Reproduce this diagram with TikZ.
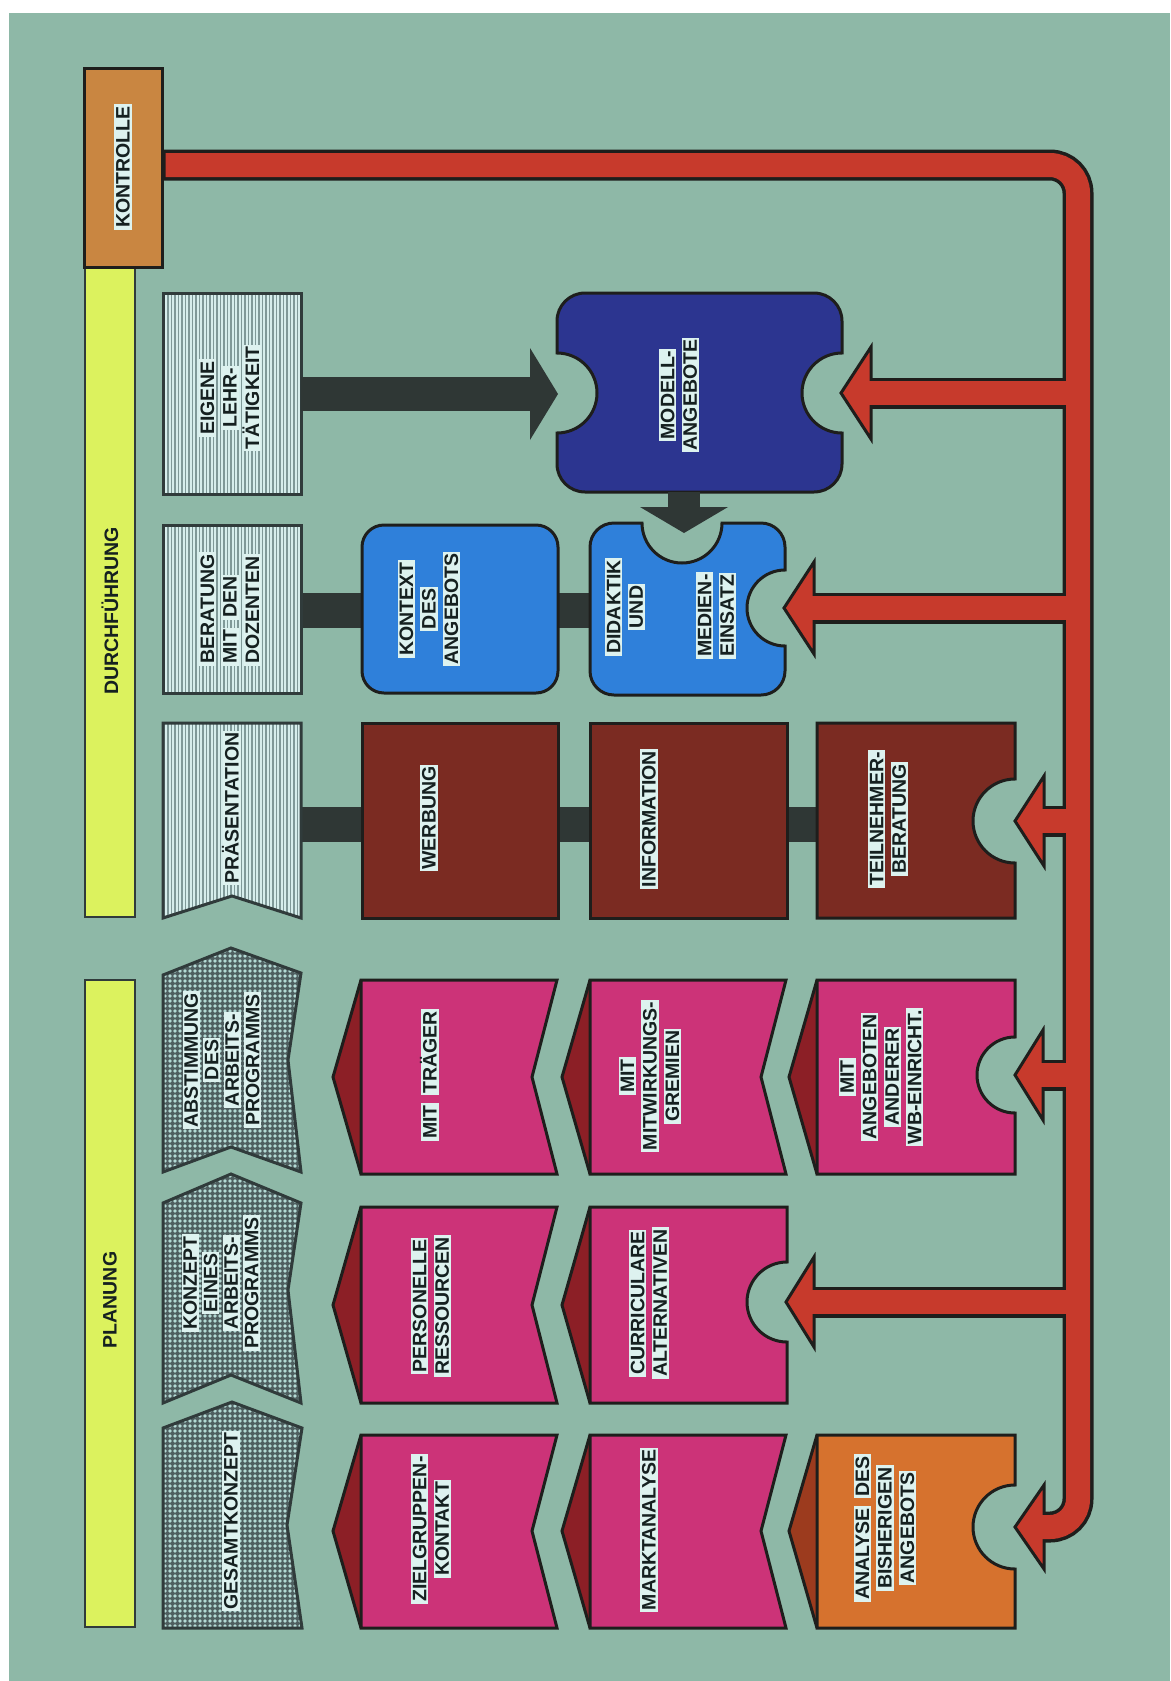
\documentclass[tikz,border=0pt]{standalone}
\usepackage{fontspec}
\setmainfont{Liberation Sans}
\usetikzlibrary{calc,patterns.meta}
\definecolor{bgc}{HTML}{8EB8A7}
\definecolor{redc}{HTML}{C73A2C}
\definecolor{outc}{HTML}{1E1E1C}
\definecolor{darkc}{HTML}{2F3735}
\definecolor{magc}{HTML}{CC3378}
\definecolor{magside}{HTML}{8C1F26}
\definecolor{orac}{HTML}{D6722E}
\definecolor{oraside}{HTML}{9C3B1E}
\definecolor{brownc}{HTML}{7B2B22}
\definecolor{navyc}{HTML}{2C3590}
\definecolor{bluec}{HTML}{2F80DA}
\definecolor{yelc}{HTML}{DCF25E}
\definecolor{konc}{HTML}{C98641}
\definecolor{stripebase}{HTML}{D6EEEC}
\definecolor{stripeline}{HTML}{7F9998}
\definecolor{dotbase}{HTML}{4F5F60}
\definecolor{dotc}{HTML}{B4DAD5}
\definecolor{hdrline}{HTML}{303B3B}
\definecolor{txtc}{HTML}{152020}
\definecolor{hlc}{HTML}{DDF2EF}
\setlength{\fboxsep}{2pt}
\newcommand\hlt[1]{\colorbox{hlc}{\vphantom{X}\smash{#1}}}
\newcommand\lblfont{\bfseries\fontsize{19.5}{22.5}\selectfont}
\newcommand\lblfontt{\bfseries\fontsize{19.5}{20.5}\selectfont}
\tikzdeclarepattern{
  name=hdots,
  type=uncolored,
  bounding box={(-2.5pt,-2.5pt) and (2.5pt,2.5pt)},
  tile size={(5pt,5pt)},
  code={\pgfpathcircle{\pgfpointorigin}{1.8pt}\pgfusepath{fill}}
}
% magenta box with V notch: L R T B M face side
\newcommand\MagV[7]{%
  \filldraw[fill=#7, draw=outc, line width=3pt, line join=miter] (#1,#3) -- (#1-28,#5) -- (#1,#4);
  \filldraw[fill=#6, draw=outc, line width=3pt, line join=miter] (#1,#3) -- (#2,#3) -- (#2-25,#5) -- (#2,#4) -- (#1,#4) -- cycle;}
% box with round notch: L R T B M face side notchY r
\newcommand\MagC[9]{%
  \filldraw[fill=#7, draw=outc, line width=3pt, line join=miter] (#1,#3) -- (#1-28,#5) -- (#1,#4);
  \filldraw[fill=#6, draw=outc, line width=3pt, line join=miter] (#1,#3) -- (#2,#3) -- (#2,#8-#9) arc[start angle=270, end angle=90, radius=#9] -- (#2,#4) -- (#1,#4) -- cycle;}
\begin{document}
\begin{tikzpicture}[x=1pt,y=-1pt,
  lbl/.style={rotate=90, align=center, font=\lblfont, text=txtc, inner sep=0pt},
  boxline/.style={draw=outc, line width=3pt, line join=miter},
  stripes/.style={draw=hdrline, line width=3pt, line join=miter, preaction={fill=stripebase}, preaction={pattern={Lines[angle=90,distance=3.5pt,line width=1.1pt]}, pattern color=stripeline}},
  dotshape/.style={draw=hdrline, line width=3pt, line join=miter, preaction={fill=dotbase}, preaction={pattern=hdots, pattern color=dotc}},
  blackline/.style={outc, line width=31pt},
  redline/.style={redc, line width=24pt},
  redhead/.style={fill=redc, draw=outc, line width=3pt, line join=miter}
]
\useasboundingbox (0,0) rectangle (1170,1681);
\fill[white] (0,0) rectangle (1170,1681);
\fill[bgc] (9,13) rectangle (1170,1681);

% named points
\coordinate (trunkX) at (1078,0);
\coordinate (konR) at (164,165);
\coordinate (eigR) at (301,394);
\coordinate (modL) at (558,394);
\coordinate (modB) at (684,492);
\coordinate (didT) at (684,533);
\coordinate (berR) at (301,610);
\coordinate (didL) at (590,610);
\coordinate (praR) at (301,824);
\coordinate (teiL) at (817,824);
\coordinate (tipMod) at (841,393);
\coordinate (tipDid) at (784,608);
\coordinate (tipTei) at (1015,821);
\coordinate (tipAng) at (1015,1075);
\coordinate (tipCur) at (786,1302);
\coordinate (tipAna) at (1015,1527);

% phase bars
\filldraw[fill=yelc, draw=hdrline, line width=2.5pt] (85,267) rectangle (135,917);
\filldraw[fill=yelc, draw=hdrline, line width=2.5pt] (85,980) rectangle (135,1627);
\filldraw[fill=konc, boxline] (84,68) rectangle (162,267);

% dark connector bars
\draw[darkc, line width=35pt] (berR) -- (didL);
\draw[darkc, line width=35pt] (praR) -- (teiL);

% header shapes
\draw[stripes] (163,293) rectangle (301,494);
\draw[stripes] (163,525) rectangle (301,693);
\draw[stripes] (163,723) -- (301,723) -- (301,918) -- (232,896) -- (163,918) -- cycle;
\draw[dotshape] (163,975) -- (231,948) -- (301,973) -- (288,1060) -- (301,1172) -- (231,1147) -- (163,1172) -- cycle;
\draw[dotshape] (163,1203) -- (231,1174) -- (301,1203) -- (288,1290) -- (301,1403) -- (231,1375) -- (163,1403) -- cycle;
\draw[dotshape] (163,1428) -- (232,1402) -- (302,1428) -- (287,1525) -- (302,1628) -- (163,1628) -- cycle;

% blue boxes
\filldraw[fill=navyc, boxline] (585,293) -- (814,293) arc[start angle=270, end angle=360, radius=28] -- (842,353) arc[start angle=270, end angle=90, radius=40] -- (842,464) arc[start angle=0, end angle=90, radius=28] -- (585,492) arc[start angle=90, end angle=180, radius=28] -- (557,433) arc[start angle=90, end angle=-90, radius=40] -- (557,321) arc[start angle=180, end angle=270, radius=28] -- cycle;
\filldraw[fill=bluec, boxline, rounded corners=22pt] (362,525) rectangle (558,693);
\filldraw[fill=bluec, boxline] (614,523) -- (642,523) arc[start angle=180, end angle=0, radius=40] -- (761,523) arc[start angle=270, end angle=360, radius=24] -- (785,570) arc[start angle=270, end angle=90, radius=38] -- (785,671) arc[start angle=0, end angle=90, radius=24] -- (614,695) arc[start angle=90, end angle=180, radius=24] -- (590,547) arc[start angle=180, end angle=270, radius=24] -- cycle;

% brown boxes
\filldraw[fill=brownc, boxline] (362,723) rectangle (558,918);
\filldraw[fill=brownc, boxline] (590,723) rectangle (787,918);
\filldraw[fill=brownc, boxline] (817,723) -- (1015,723) -- (1015,779) arc[start angle=270, end angle=90, radius=42] -- (1015,918) -- (817,918) -- cycle;

% planning boxes
\MagV{361}{557}{980}{1174}{1077}{magc}{magside}
\MagV{590}{786}{980}{1174}{1077}{magc}{magside}
\MagC{817}{1015}{980}{1174}{1077}{magc}{magside}{1075}{38}
\MagV{361}{557}{1207}{1403}{1305}{magc}{magside}
\MagC{590}{787}{1207}{1403}{1305}{magc}{magside}{1302}{40}
\MagV{361}{557}{1435}{1628}{1531}{magc}{magside}
\MagV{590}{786}{1435}{1628}{1531}{magc}{magside}
\MagC{817}{1015}{1435}{1628}{1531}{orac}{oraside}{1527}{42}

% dark arrows
\draw[darkc, line width=34pt] (eigR) -- ($(modL)+(-26,0)$);
\fill[darkc] ($(modL)+(-28,-46)$) -- (modL) -- ($(modL)+(-28,46)$) -- cycle;
\draw[darkc, line width=32pt] (modB) -- ($(didT)+(0,-24)$);
\fill[darkc] ($(didT)+(-44,-26)$) -- (didT) -- ($(didT)+(44,-26)$) -- cycle;

% red control network: black underlay
\draw[blackline, rounded corners=28pt] (konR) -- (konR -| trunkX) -- (tipAna -| trunkX) -- ($(tipAna)+(27,0)$);
\draw[blackline] (tipMod -| trunkX) -- ($(tipMod)+(27,0)$);
\draw[blackline] (tipDid -| trunkX) -- ($(tipDid)+(27,0)$);
\draw[blackline] (tipTei -| trunkX) -- ($(tipTei)+(27,0)$);
\draw[blackline] (tipAng -| trunkX) -- ($(tipAng)+(27,0)$);
\draw[blackline] (tipCur -| trunkX) -- ($(tipCur)+(27,0)$);
% heads
\filldraw[redhead] (tipMod) -- ++(30,-46) -- ++(0,92) -- cycle;
\filldraw[redhead] (tipDid) -- ++(30,-46) -- ++(0,92) -- cycle;
\filldraw[redhead] (tipTei) -- ++(29,-45) -- ++(0,90) -- cycle;
\filldraw[redhead] (tipAng) -- ++(28,-45) -- ++(0,90) -- cycle;
\filldraw[redhead] (tipCur) -- ++(28,-45) -- ++(0,90) -- cycle;
\filldraw[redhead] (tipAna) -- ++(29,-42) -- ++(0,84) -- cycle;
% red on top
\draw[redline, rounded corners=28pt] ($(konR)+(1.5,0)$) -- (konR -| trunkX) -- (tipAna -| trunkX) -- ($(tipAna)+(26,0)$);
\draw[redline] (tipMod -| trunkX) -- ($(tipMod)+(27,0)$);
\draw[redline] (tipDid -| trunkX) -- ($(tipDid)+(27,0)$);
\draw[redline] (tipTei -| trunkX) -- ($(tipTei)+(26,0)$);
\draw[redline] (tipAng -| trunkX) -- ($(tipAng)+(25,0)$);
\draw[redline] (tipCur -| trunkX) -- ($(tipCur)+(25,0)$);

% labels
\node[lbl] (tKon) at (123,167) {\hlt{KONTROLLE}};
\node[lbl] (tDur) at (110,611) {DURCHFÜHRUNG};
\node[lbl] (tPlan) at (110,1300) {PLANUNG};
\node[lbl] (tEig) at (230,398) {\hlt{EIGENE}\\\hlt{LEHR-}\\\hlt{TÄTIGKEIT}};
\node[lbl, align=left] (tBer) at (230,609) {\hlt{BERATUNG}\\\hlt{MIT}\hspace{8pt}\hlt{DEN}\\\hlt{DOZENTEN}};
\node[lbl] (tPra) at (232,808) {\hlt{PRÄSENTATION}};
\node[lbl, font=\lblfontt] (tAbs) at (222,1060) {\hlt{ABSTIMMUNG}\\\hlt{DES}\\\hlt{ARBEITS-}\\\hlt{PROGRAMMS}};
\node[lbl, font=\lblfontt] (tKonz) at (221,1283) {\hlt{KONZEPT}\\\hlt{EINES}\\\hlt{ARBEITS-}\\\hlt{PROGRAMMS}};
\node[lbl] (tGes) at (231,1521) {\hlt{GESAMTKONZEPT}};
\node[lbl] (tKtx) at (429,609) {\hlt{KONTEXT}\\\hlt{DES}\\\hlt{ANGEBOTS}};
\node[lbl] (tDid) at (625,607) {\hlt{DIDAKTIK}\\\hlt{UND}};
\node[lbl, align=left, anchor=west] (tMed) at (716,659) {\hlt{MEDIEN-}\\\hlt{EINSATZ}};
\node[lbl] (tMod) at (679,395) {\hlt{MODELL-}\\\hlt{ANGEBOTE}};
\node[lbl] (tWer) at (429,818) {\hlt{WERBUNG}};
\node[lbl] (tInf) at (649,819) {\hlt{INFORMATION}};
\node[lbl] (tTei) at (888,819) {\hlt{TEILNEHMER-}\\\hlt{BERATUNG}};
\node[lbl] (tTra) at (430,1075) {\hlt{MIT}\hspace{8pt}\hlt{TRÄGER}};
\node[lbl] (tMit) at (650,1076) {\hlt{MIT}\\\hlt{MITWIRKUNGS-}\\\hlt{GREMIEN}};
\node[lbl] (tAng) at (881,1077) {\hlt{MIT}\\\hlt{ANGEBOTEN}\\\hlt{ANDERER}\\\hlt{WB-EINRICHT.}};
\node[lbl] (tPer) at (431,1306) {\hlt{PERSONELLE}\\\hlt{RESSOURCEN}};
\node[lbl] (tCur) at (649,1303) {\hlt{CURRICULARE}\\\hlt{ALTERNATIVEN}};
\node[lbl] (tZie) at (431,1529) {\hlt{ZIELGRUPPEN-}\\\hlt{KONTAKT}};
\node[lbl] (tMar) at (649,1530) {\hlt{MARKTANALYSE}};
\node[lbl] (tAna) at (885,1528) {\hlt{ANALYSE}\hspace{8pt}\hlt{DES}\\\hlt{BISHERIGEN}\\\hlt{ANGEBOTS}};
\end{tikzpicture}
\end{document}
